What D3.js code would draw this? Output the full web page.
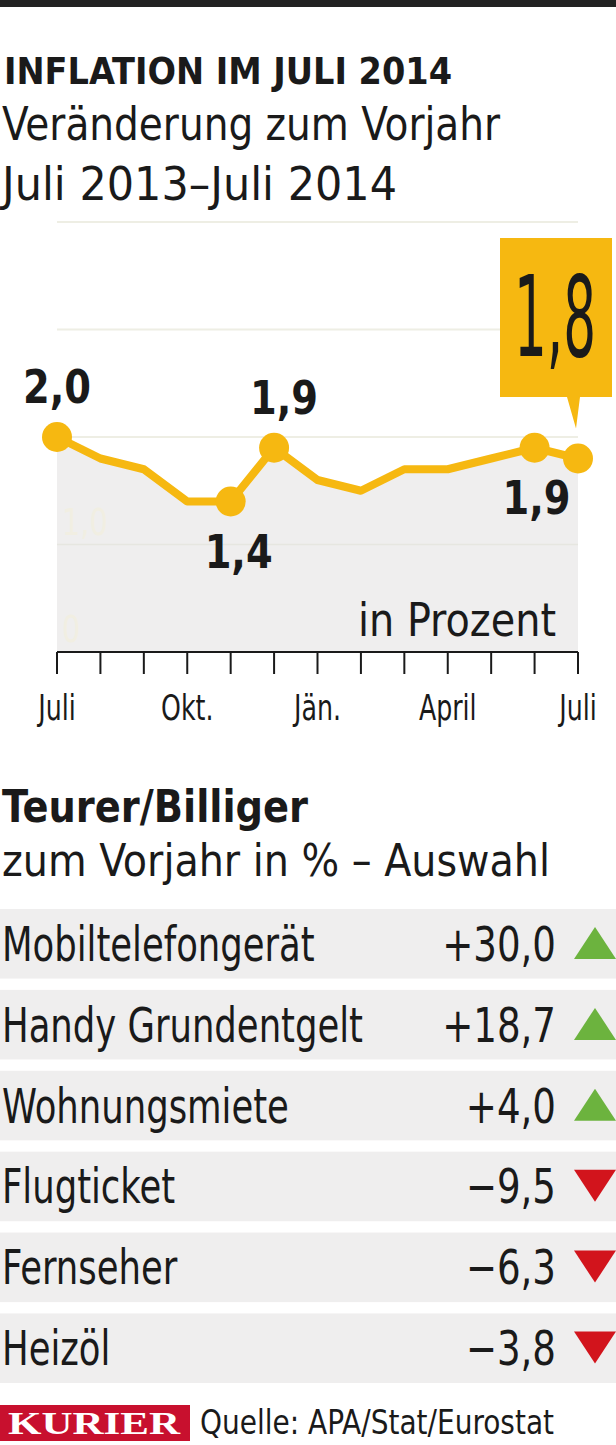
<!DOCTYPE html>
<html lang="de">
<head>
<meta charset="UTF-8" />
<style>
  html, body { margin: 0; padding: 0; background: #fff; }
  svg { display: block; font-family: "DejaVu Sans Condensed", "Liberation Sans Narrow", sans-serif; }
</style>
</head>
<body>
<svg width="616" height="1445"></svg>
<script src="https://d3js.org/d3.v7.min.js"></script>
<script>
  // monthly inflation, Juli 2013 - Juli 2014
  const months = ["Juli", "Aug", "Sep", "Okt.", "Nov", "Dez", "Jän.", "Feb", "März", "April", "Mai", "Juni", "Juli2"];
  const inflation = [2.0, 1.8, 1.7, 1.4, 1.4, 1.9, 1.6, 1.5, 1.7, 1.7, 1.8, 1.9, 1.8];
  const tickLabels = { "Juli": "Juli", "Okt.": "Okt.", "Jän.": "Jän.", "April": "April", "Juli2": "Juli" };
  const markedIdx = [0, 4, 5, 11, 12];
  const pointLabels = [
    { i: 0, text: "2,0", dx: 0, dy: -34 },
    { i: 4, text: "1,4", dx: 8, dy: 66 },
    { i: 5, text: "1,9", dx: 10, dy: -34 },
    { i: 11, text: "1,9", dx: 2, dy: 66 }
  ];
  const yTicks = [0, 1, 2, 3, 4];

  // table
  const items = ["Mobiltelefongerät", "Handy Grundentgelt", "Wohnungsmiete", "Flugticket", "Fernseher", "Heizöl"];
  const changes = [30.0, 18.7, 4.0, -9.5, -6.3, -3.8];

  const svg = d3.select("svg");
  const yellow = "#f6b811";
  const ink = "#1a1a1a";
  const fmt = v => (v > 0 ? "+" : "\u2212") + Math.abs(v).toFixed(1).replace(".", ",");

  // squeeze text horizontally to mimic the narrow newspaper font
  function narrow(sel, f = 0.84) {
    sel.each(function () {
      const w = this.getComputedTextLength();
      d3.select(this).attr("textLength", w * f).attr("lengthAdjust", "spacingAndGlyphs");
    });
    return sel;
  }

  svg.append("rect").attr("x", 0).attr("y", 0).attr("width", 616).attr("height", 7).attr("fill", "#222");

  // titles
  svg.append("text").attr("x", 4).attr("y", 84).attr("font-size", 38).attr("font-weight", "bold")
    .attr("fill", ink).attr("textLength", 448).attr("lengthAdjust", "spacingAndGlyphs").text("INFLATION IM JULI 2014");
  svg.append("text").attr("x", 2).attr("y", 140).attr("font-size", 46).attr("fill", ink)
    .attr("textLength", 498).attr("lengthAdjust", "spacingAndGlyphs").text("Veränderung zum Vorjahr");
  svg.append("text").attr("x", 2).attr("y", 200).attr("font-size", 46).attr("fill", ink)
    .attr("textLength", 395).attr("lengthAdjust", "spacingAndGlyphs").text("Juli 2013–Juli 2014");

  // line chart
  const x = d3.scalePoint().domain(months).range([57, 578]);
  const y = d3.scaleLinear().domain([0, 4]).range([652, 222]);

  svg.append("g").selectAll("line").data(yTicks.slice(1)).join("line")
    .attr("x1", 57).attr("x2", 578).attr("y1", d => y(d)).attr("y2", d => y(d))
    .attr("stroke", "#eeeee4").attr("stroke-width", 2);

  const area = d3.area().x((d, i) => x(months[i])).y0(y(0)).y1(d => y(d));
  svg.append("path").datum(inflation).attr("d", area).attr("fill", "#efeeee");

  svg.append("line").attr("x1", 57).attr("x2", 578).attr("y1", y(1)).attr("y2", y(1))
    .attr("stroke", "#e6e6e0").attr("stroke-width", 1.5);

  // faint axis labels
  narrow(svg.append("g").selectAll("text").data([0, 1]).join("text")
    .attr("x", 62).attr("y", d => y(d) - 10).attr("font-size", 38).attr("fill", "#f1eee2")
    .text(d => d === 0 ? "0" : "1,0"));

  svg.append("text").attr("x", 358).attr("y", 636)
    .attr("font-size", 46).attr("fill", ink).attr("textLength", 198).attr("lengthAdjust", "spacingAndGlyphs")
    .text("in Prozent");

  const line = d3.line().x((d, i) => x(months[i])).y(d => y(d));
  svg.append("path").datum(inflation).attr("d", line).attr("fill", "none")
    .attr("stroke", yellow).attr("stroke-width", 8).attr("stroke-linejoin", "round");

  svg.append("g").selectAll("circle").data(markedIdx).join("circle")
    .attr("cx", i => x(months[i])).attr("cy", i => y(inflation[i])).attr("r", 15).attr("fill", yellow);

  svg.append("g").selectAll("text").data(pointLabels).join("text")
    .attr("x", d => x(months[d.i]) + d.dx - 34).attr("y", d => y(inflation[d.i]) + d.dy)
    .attr("font-size", 46).attr("font-weight", "bold").attr("textLength", 68).attr("lengthAdjust", "spacingAndGlyphs")
    .attr("fill", ink).text(d => d.text);

  // callout for latest value
  const last = inflation.length - 1;
  const lx = x(months[last]);
  svg.append("path")
    .attr("d", `M500,238 H612 V397 H580 L${lx - 2},${y(inflation[last]) - 30} L567,397 H500 Z`)
    .attr("fill", yellow);
  svg.append("text").attr("x", 514).attr("y", 356)
    .attr("font-size", 112).attr("fill", ink).attr("textLength", 82).attr("lengthAdjust", "spacingAndGlyphs")
    .text(fmt(inflation[last]).slice(1));

  // x axis
  svg.append("line").attr("x1", 57).attr("x2", 578).attr("y1", 652).attr("y2", 652)
    .attr("stroke", ink).attr("stroke-width", 2);
  svg.append("g").selectAll("line").data(months).join("line")
    .attr("x1", d => x(d)).attr("x2", d => x(d)).attr("y1", 652).attr("y2", 674)
    .attr("stroke", ink).attr("stroke-width", 2);
  narrow(svg.append("g").selectAll("text").data(months.filter(m => tickLabels[m])).join("text")
    .attr("x", d => x(d)).attr("y", 720).attr("text-anchor", "middle")
    .attr("font-size", 36).attr("fill", ink).text(d => tickLabels[d]), 0.78);

  // table
  svg.append("text").attr("x", 2).attr("y", 822).attr("font-size", 44).attr("font-weight", "bold")
    .attr("fill", ink).attr("textLength", 306).attr("lengthAdjust", "spacingAndGlyphs").text("Teurer/Billiger");
  svg.append("text").attr("x", 2).attr("y", 876).attr("font-size", 44)
    .attr("fill", ink).attr("textLength", 548).attr("lengthAdjust", "spacingAndGlyphs").text("zum Vorjahr in % – Auswahl");

  const rowY = d3.scaleBand().domain(items).range([909, 1383]).paddingInner(0.14).paddingOuter(0);
  const rows = svg.append("g").selectAll("g").data(items).join("g")
    .attr("transform", d => `translate(0,${rowY(d)})`);
  rows.append("rect").attr("x", 0).attr("width", 616).attr("height", rowY.bandwidth()).attr("fill", "#efeeee");
  narrow(rows.append("text").attr("x", 2).attr("y", rowY.bandwidth() / 2 + 17)
    .attr("font-size", 48).attr("fill", ink).text(d => d), 0.82);
  narrow(rows.append("text").attr("x", 556).attr("y", rowY.bandwidth() / 2 + 17).attr("text-anchor", "end")
    .attr("font-size", 48).attr("fill", ink).text((d, i) => fmt(changes[i])), 0.86);
  rows.append("path")
    .attr("d", (d, i) => changes[i] > 0 ? "M574,50 L595,18 L616,50 Z" : "M574,18 L616,18 L595,50 Z")
    .attr("fill", (d, i) => changes[i] > 0 ? "#6cb33e" : "#d2141c");

  // footer
  svg.append("rect").attr("x", 0).attr("y", 1405).attr("width", 190).attr("height", 36).attr("fill", "#c8102e");
  svg.append("text").attr("x", 8).attr("y", 1434)
    .attr("font-family", "Liberation Serif, serif").attr("font-size", 32).attr("font-weight", "bold")
    .attr("textLength", 172).attr("lengthAdjust", "spacingAndGlyphs")
    .attr("fill", "#fff").text("KURIER");
  svg.append("text").attr("x", 200).attr("y", 1434).attr("font-size", 34).attr("fill", ink)
    .attr("textLength", 354).attr("lengthAdjust", "spacingAndGlyphs").text("Quelle: APA/Stat/Eurostat");
</script>
</body>
</html>
